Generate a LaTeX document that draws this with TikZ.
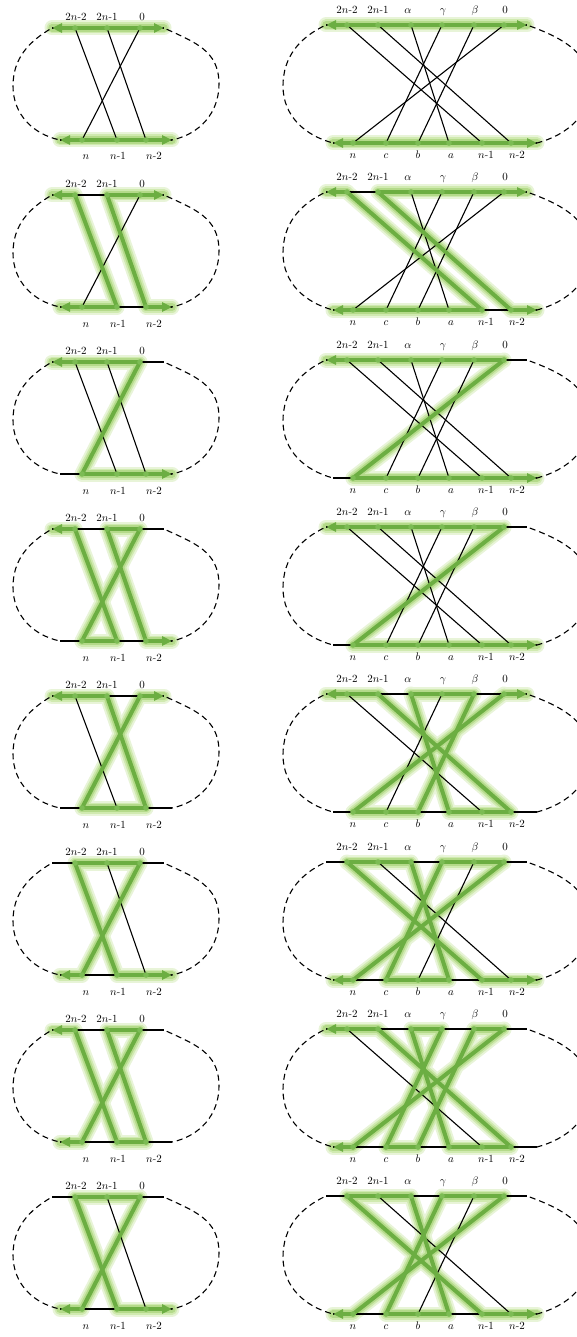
\documentclass[tikz,border=0pt]{standalone}
\usepackage{tikz}
\usetikzlibrary{arrows.meta}

\definecolor{hlgreen}{RGB}{108,174,66}
\definecolor{dotgreen}{RGB}{124,188,84}
\definecolor{glowA}{RGB}{232,244,216}
\definecolor{glowB}{RGB}{208,234,176}
\definecolor{glowC}{RGB}{180,218,138}

% left panel: name, y of top line, green inner segments, green end segments
\newcommand{\lpanel}[4]{%
  \begin{scope}[shift={(0,#2)}]
    \coordinate (#1le)  at (52,0);
    \coordinate (#1t1)  at (75,0);
    \coordinate (#1t2)  at (107,0);
    \coordinate (#1t3)  at (140,0);
    \coordinate (#1re)  at (164,0);
    \coordinate (#1ble) at (60,112);
    \coordinate (#1b1)  at (82,112);
    \coordinate (#1b2)  at (117,112);
    \coordinate (#1b3)  at (146,112);
    \coordinate (#1bre) at (172,112);
    \coordinate (#1lm)  at (13,58);
    \coordinate (#1rm)  at (219,56);
  \end{scope}
  \foreach \a/\b in {#3,#4} \draw[glowa] (#1\a) -- (#1\b);
  \foreach \a/\b in {#3,#4} \draw[glowb] (#1\a) -- (#1\b);
  \foreach \a/\b in {#3,#4} \draw[glowc] (#1\a) -- (#1\b);
  \draw[plain] (#1le) -- (#1re);
  \draw[plain] (#1ble) -- (#1bre);
  \foreach \a/\b in {t1/b2,t2/b3,t3/b1} \draw[plain] (#1\a) -- (#1\b);
  \draw[loopline] (#1le) to[out=210,in=90] (#1lm) to[out=-90,in=168] (#1ble);
  \draw[loopline] (#1re) to[out=-25,in=90,looseness=1.1] (#1rm) to[out=-90,in=12] (#1bre);
  \foreach \a/\b in {#3} \draw[hl] (#1\a) -- (#1\b);
  \foreach \a/\b in {#4} \draw[hl,-{Triangle[length=10pt,width=9pt]}] (#1\a) -- (#1\b);
  \foreach \p in {t1,t2,t3,b1,b2,b3} \fill[dot] (#1\p) circle (2.8);
  \begin{scope}[shift={(0,#2)}]
    \node[lbl] (#1lt1) at (76,-7.3)  {$2n$-$2$};
    \node[lbl] (#1lt2) at (107,-7.3) {$2n$-$1$};
    \node[lbl] (#1lt3) at (142,-7.3) {$0$};
    \node[lbl] (#1lb1) at (86,132)   {$n$};
    \node[lbl] (#1lb2) at (118,132)  {$n$-$1$};
    \node[lbl] (#1lb3) at (154,132)  {$n$-$2$};
  \end{scope}
}

% right panel: name, y of top line, green inner segments, green end segments
\newcommand{\rpanel}[4]{%
  \begin{scope}[shift={(0,#2)}]
    \coordinate (#1le)  at (326,0);
    \coordinate (#1t1)  at (347,0);
    \coordinate (#1t2)  at (378,0);
    \coordinate (#1t3)  at (411,0);
    \coordinate (#1t4)  at (442,0);
    \coordinate (#1t5)  at (474,0);
    \coordinate (#1t6)  at (504,0);
    \coordinate (#1re)  at (527,0);
    \coordinate (#1ble) at (333,118);
    \coordinate (#1b1)  at (353,118);
    \coordinate (#1b2)  at (386,118);
    \coordinate (#1b3)  at (418,118);
    \coordinate (#1b4)  at (449,118);
    \coordinate (#1b5)  at (482,118);
    \coordinate (#1b6)  at (511,118);
    \coordinate (#1bre) at (537,118);
    \coordinate (#1lm)  at (283,61);
    \coordinate (#1rm)  at (590,60);
  \end{scope}
  \foreach \a/\b in {#3,#4} \draw[glowa] (#1\a) -- (#1\b);
  \foreach \a/\b in {#3,#4} \draw[glowb] (#1\a) -- (#1\b);
  \foreach \a/\b in {#3,#4} \draw[glowc] (#1\a) -- (#1\b);
  \draw[plain] (#1le) -- (#1re);
  \draw[plain] (#1ble) -- (#1bre);
  \foreach \a/\b in {t1/b5,t2/b6,t3/b4,t4/b2,t5/b3,t6/b1} \draw[plain] (#1\a) -- (#1\b);
  \draw[loopline] (#1le) to[out=205,in=90] (#1lm) to[out=-90,in=165] (#1ble);
  \draw[loopline] (#1re) to[out=-20,in=90] (#1rm) to[out=-90,in=15] (#1bre);
  \foreach \a/\b in {#3} \draw[hl] (#1\a) -- (#1\b);
  \foreach \a/\b in {#4} \draw[hl,-{Triangle[length=10pt,width=9pt]}] (#1\a) -- (#1\b);
  \foreach \p in {t1,t2,t3,t4,t5,t6,b1,b2,b3,b4,b5,b6} \fill[dot] (#1\p) circle (2.8);
  \begin{scope}[shift={(0,#2)}]
    \node[lbl] (#1lt1) at (347,-11.7) {$2n$-$2$};
    \node[lbl] (#1lt2) at (378,-11.7) {$2n$-$1$};
    \node[lbl] (#1lt3) at (408,-11.7) {$\alpha$};
    \node[lbl] (#1lt4) at (443,-11.7) {$\gamma$};
    \node[lbl] (#1lt5) at (475,-11.7) {$\beta$};
    \node[lbl] (#1lt6) at (505,-11.7) {$0$};
    \node[lbl] (#1lb1) at (353,133.3) {$n$};
    \node[lbl] (#1lb2) at (386,133.3) {$c$};
    \node[lbl] (#1lb3) at (418,133.3) {$b$};
    \node[lbl] (#1lb4) at (451,133.3) {$a$};
    \node[lbl] (#1lb5) at (486,133.3) {$n$-$1$};
    \node[lbl] (#1lb6) at (517,133.3) {$n$-$2$};
  \end{scope}
}

\begin{document}
\begin{tikzpicture}[
    x=1pt, y=-1pt,
    font=\fontsize{10.5}{12}\selectfont,
    plain/.style={line width=1.1pt, black},
    loopline/.style={line width=1.1pt, black, dash pattern=on 6pt off 4pt, dash phase=7pt},
    glowa/.style={line width=15pt, glowA, line cap=round},
    glowb/.style={line width=11pt, glowB, line cap=round},
    glowc/.style={line width=7.5pt, glowC, line cap=round},
    hl/.style={line width=4pt, hlgreen, line cap=round},
    dot/.style={dotgreen},
    lbl/.style={anchor=base, inner sep=0pt},
  ]
  \useasboundingbox (0,0) rectangle (577,1337);
  \clip (0,0) rectangle (577,1337);

  % left column
  \lpanel{L1}{28}{t1/t2,t2/t3,b1/b2,b2/b3}{t1/le,t3/re,b1/ble,b3/bre}
  \lpanel{L2}{195}{t2/t3,t1/b2,t2/b3,b1/b2}{t1/le,t3/re,b1/ble,b3/bre}
  \lpanel{L3}{362}{t1/t2,t2/t3,t3/b1,b1/b2,b2/b3}{t1/le,b3/bre}
  \lpanel{L4}{529}{t2/t3,t1/b2,t2/b3,t3/b1,b1/b2}{t1/le,b3/bre}
  \lpanel{L5}{696}{t1/t2,t2/b3,t3/b1,b1/b2,b2/b3}{t1/le,t3/re}
  \lpanel{L6}{863}{t1/t2,t2/t3,t1/b2,t3/b1,b2/b3}{b1/ble,b3/bre}
  \lpanel{L7}{1030}{t2/t3,t1/b2,t2/b3,t3/b1,b2/b3}{t1/le,b1/ble}
  \lpanel{L8}{1197}{t1/t2,t2/t3,t1/b2,t3/b1,b2/b3}{b1/ble,b3/bre}

  % right column
  \rpanel{R1}{25}{t1/t2,t2/t3,t3/t4,t4/t5,t5/t6,b1/b2,b2/b3,b3/b4,b4/b5,b5/b6}{t1/le,t6/re,b1/ble,b6/bre}
  \rpanel{R2}{192}{t2/t3,t3/t4,t4/t5,t5/t6,t1/b5,t2/b6,b1/b2,b2/b3,b3/b4,b4/b5}{t1/le,t6/re,b1/ble,b6/bre}
  \rpanel{R3}{360}{t1/t2,t2/t3,t3/t4,t4/t5,t5/t6,t6/b1,b1/b2,b2/b3,b3/b4,b4/b5,b5/b6}{t1/le,b6/bre}
  \rpanel{R4}{527}{t1/t2,t2/t3,t3/t4,t4/t5,t5/t6,t6/b1,b1/b2,b2/b3,b3/b4,b4/b5,b5/b6}{t1/le,b6/bre}
  \rpanel{R5}{694}{t1/t2,t3/t4,t4/t5,t2/b6,t3/b4,t5/b3,t6/b1,b1/b2,b2/b3,b4/b5,b5/b6}{t1/le,t6/re}
  \rpanel{R6}{862}{t1/t2,t2/t3,t4/t5,t5/t6,t1/b5,t3/b4,t4/b2,t6/b1,b2/b3,b3/b4,b5/b6}{b1/ble,b6/bre}
  \rpanel{R7}{1029}{t1/t2,t3/t4,t5/t6,t2/b6,t3/b4,t4/b2,t5/b3,t6/b1,b2/b3,b4/b5,b5/b6}{t1/le,b1/ble}
  \rpanel{R8}{1196}{t1/t2,t2/t3,t4/t5,t5/t6,t1/b5,t3/b4,t4/b2,t6/b1,b2/b3,b3/b4,b5/b6}{b1/ble,b6/bre}
\end{tikzpicture}
\end{document}
